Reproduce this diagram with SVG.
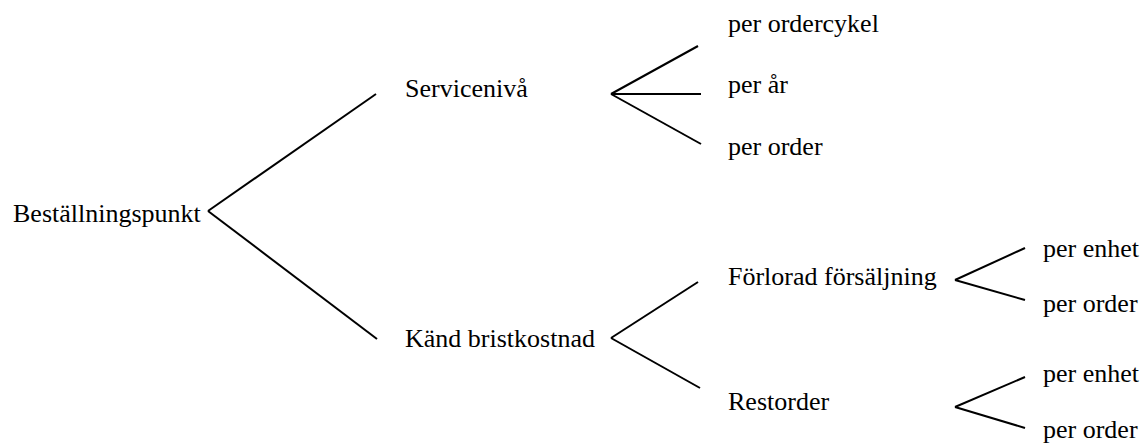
<svg xmlns="http://www.w3.org/2000/svg" width="1142" height="444" viewBox="0 0 1142 444">
  <style>
    .lbl { font-family: "Liberation Serif", "Times New Roman", serif; font-size: 26px; fill: #000; }
    .edge { stroke: #000; stroke-width: 2; fill: none; stroke-linecap: butt; }
  </style>
  <rect width="1142" height="444" fill="#fff"/>

  <g id="connectors">
    <!-- Beställningspunkt -->
    <line class="edge" x1="208" y1="211" x2="376" y2="94"/>
    <line class="edge" x1="208" y1="211" x2="377" y2="339"/>
    <!-- Servicenivå -->
    <line class="edge" x1="611" y1="94" x2="698" y2="46"/>
    <line class="edge" x1="611" y1="94" x2="701" y2="94"/>
    <line class="edge" x1="611" y1="94" x2="701" y2="144"/>
    <!-- Känd bristkostnad -->
    <line class="edge" x1="611" y1="338" x2="698" y2="282"/>
    <line class="edge" x1="611" y1="338" x2="700" y2="388"/>
    <!-- Förlorad försäljning -->
    <line class="edge" x1="955" y1="280" x2="1025" y2="248"/>
    <line class="edge" x1="955" y1="280" x2="1025" y2="300"/>
    <!-- Restorder -->
    <line class="edge" x1="955" y1="407" x2="1025" y2="377"/>
    <line class="edge" x1="955" y1="407" x2="1025" y2="428"/>
  </g>

  <g id="node-bestallningspunkt"><text class="lbl" x="13" y="222">Beställningspunkt</text></g>
  <g id="node-serviceniva"><text class="lbl" x="405" y="97">Servicenivå</text></g>
  <g id="node-kand-bristkostnad"><text class="lbl" x="405" y="347">Känd bristkostnad</text></g>

  <g id="node-per-ordercykel"><text class="lbl" x="728" y="32">per ordercykel</text></g>
  <g id="node-per-ar"><text class="lbl" x="728" y="93">per år</text></g>
  <g id="node-per-order-1"><text class="lbl" x="728" y="155">per order</text></g>

  <g id="node-forlorad-forsaljning"><text class="lbl" x="728" y="285">Förlorad försäljning</text></g>
  <g id="node-restorder"><text class="lbl" x="728" y="410">Restorder</text></g>

  <g id="node-per-enhet-1"><text class="lbl" x="1043" y="257">per enhet</text></g>
  <g id="node-per-order-2"><text class="lbl" x="1043" y="312">per order</text></g>
  <g id="node-per-enhet-2"><text class="lbl" x="1043" y="382">per enhet</text></g>
  <g id="node-per-order-3"><text class="lbl" x="1043" y="438">per order</text></g>
</svg>
